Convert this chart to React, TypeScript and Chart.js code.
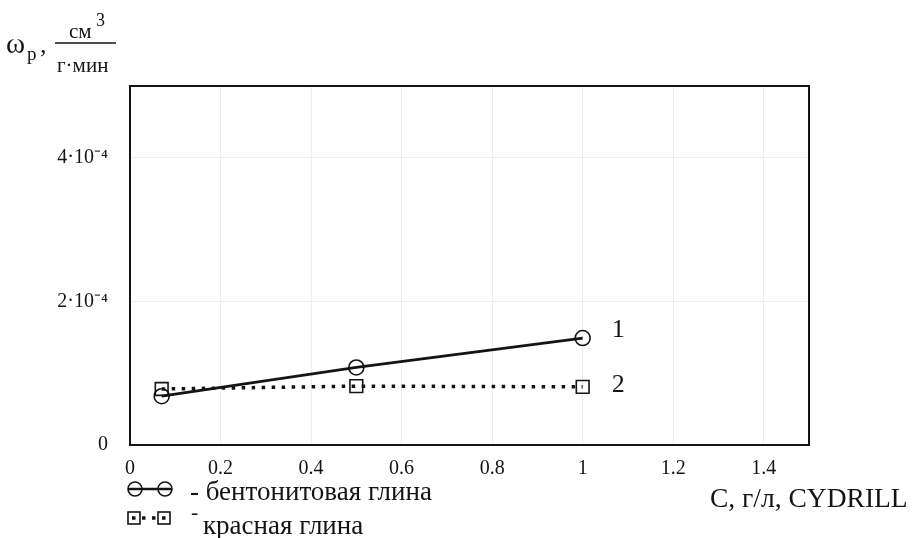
import React, { useEffect, useRef } from "react";
import { Chart, registerables } from "chart.js";

Chart.register(...registerables);

// ---- data ----
const concentrations = [0.07, 0.5, 1];
const bentoniteRates = [6.8e-5, 1.08e-4, 1.49e-4];
const redClayRates = [7.8e-5, 8.2e-5, 8.1e-5];
const xTicks = [0, 0.2, 0.4, 0.6, 0.8, 1, 1.2, 1.4];
const yTicks = [0, 2e-4, 4e-4];
const seriesNames = ["бентонитовая глина", "красная глина"];
const seriesTags = ["1", "2"];
const xTitle = "C, г/л, CYDRILL";
const xRange = [0, 1.5];
const yRange = [0, 5e-4];

const SERIF = "'Liberation Serif', 'Times New Roman', serif";
const INK = "#141414";

const overlayPlugin = {
  id: "overlay",
  afterDraw(chart: any) {
    const { ctx, chartArea } = chart;
    const xs = chart.scales.x;
    const ys = chart.scales.y;
    ctx.save();
    // plot box
    ctx.strokeStyle = INK;
    ctx.lineWidth = 2;
    ctx.strokeRect(chartArea.left, chartArea.top, chartArea.right - chartArea.left, chartArea.bottom - chartArea.top);

    ctx.fillStyle = INK;
    ctx.textBaseline = "alphabetic";
    ctx.textAlign = "left";

    // series tags next to last points
    ctx.font = `26px ${SERIF}`;
    const lastX = concentrations[concentrations.length - 1];
    const tx = xs.getPixelForValue(lastX) + 29;
    ctx.fillText(seriesTags[0], tx, ys.getPixelForValue(bentoniteRates[bentoniteRates.length - 1]) - 1);
    ctx.fillText(seriesTags[1], tx, ys.getPixelForValue(redClayRates[redClayRates.length - 1]) + 5);

    // y axis title: ω_p, см³ / г·мин
    ctx.font = `29px ${SERIF}`;
    ctx.fillText("ω", 6, 53);
    ctx.font = `19px ${SERIF}`;
    ctx.fillText("р", 27, 60);
    ctx.font = `26px ${SERIF}`;
    ctx.fillText(",", 40, 53);
    ctx.font = `21px ${SERIF}`;
    ctx.fillText("см", 69, 38);
    ctx.font = `18px ${SERIF}`;
    ctx.fillText("3", 96, 26);
    ctx.font = `21px ${SERIF}`;
    ctx.fillText("г·мин", 57, 72);
    ctx.lineWidth = 1.5;
    ctx.beginPath();
    ctx.moveTo(55, 43);
    ctx.lineTo(116, 43);
    ctx.stroke();

    // x axis title
    ctx.font = `27.5px ${SERIF}`;
    ctx.fillText(xTitle, 710, 507);

    // legend row 1: solid line with circles
    ctx.lineWidth = 2.5;
    ctx.setLineDash([]);
    ctx.beginPath();
    ctx.moveTo(128, 489);
    ctx.lineTo(172, 489);
    ctx.stroke();
    ctx.lineWidth = 1.6;
    [135, 165].forEach((cx) => {
      ctx.beginPath();
      ctx.arc(cx, 489, 7, 0, Math.PI * 2);
      ctx.stroke();
    });
    ctx.font = `27px ${SERIF}`;
    ctx.fillText("- " + seriesNames[0], 190, 500);

    // legend row 2: dotted line with squares
    ctx.lineWidth = 1.6;
    [134, 164].forEach((cx) => {
      ctx.strokeRect(cx - 6, 512, 12, 12);
    });
    ctx.lineWidth = 3.5;
    ctx.setLineDash([3.5, 6.5]);
    ctx.beginPath();
    ctx.moveTo(132, 518);
    ctx.lineTo(166, 518);
    ctx.stroke();
    ctx.setLineDash([]);
    ctx.font = `22px ${SERIF}`;
    ctx.fillText("-", 191, 519);
    ctx.font = `27px ${SERIF}`;
    ctx.fillText(seriesNames[1], 203, 534);
    ctx.restore();
  },
};

export default function App() {
  const ref = useRef<HTMLCanvasElement | null>(null);
  useEffect(() => {
    if (!ref.current) return;
    const chart = new Chart(ref.current, {
      type: "line",
      data: {
        datasets: [
          {
            label: seriesNames[0],
            data: concentrations.map((x, i) => ({ x, y: bentoniteRates[i] })),
            borderColor: INK,
            borderWidth: 2.8,
            pointStyle: "circle",
            pointRadius: 7.5,
            pointBorderWidth: 1.6,
            pointBorderColor: INK,
            pointBackgroundColor: "rgba(0,0,0,0)",
            tension: 0,
            fill: false,
          },
          {
            label: seriesNames[1],
            data: concentrations.map((x, i) => ({ x, y: redClayRates[i] })),
            borderColor: INK,
            borderWidth: 3.5,
            borderDash: [3.5, 6.5],
            pointStyle: "rect",
            pointRadius: 9,
            pointBorderWidth: 1.6,
            pointBorderColor: INK,
            pointBackgroundColor: "rgba(0,0,0,0)",
            tension: 0,
            fill: false,
          },
        ],
      },
      options: {
        animation: false,
        responsive: false,
        devicePixelRatio: 1,
        layout: { padding: { top: 86, right: 103, left: 0, bottom: 0 } },
        plugins: { legend: { display: false }, tooltip: { enabled: false } },
        scales: {
          x: {
            type: "linear",
            min: xRange[0],
            max: xRange[1],
            afterBuildTicks: (s: any) => {
              s.ticks = xTicks.map((v) => ({ value: v }));
            },
            afterFit: (s: any) => {
              s.height = 93;
            },
            grid: { color: "#eeeeee", drawTicks: false, lineWidth: 1 },
            border: { display: false },
            ticks: {
              padding: 12,
              color: INK,
              font: { family: SERIF, size: 20 },
              callback: (v: any) => String(Math.round(Number(v) * 10) / 10),
            },
          },
          y: {
            type: "linear",
            min: yRange[0],
            max: yRange[1],
            afterBuildTicks: (s: any) => {
              s.ticks = yTicks.map((v) => ({ value: v }));
            },
            afterFit: (s: any) => {
              s.width = 130;
            },
            grid: { color: "#eeeeee", drawTicks: false, lineWidth: 1 },
            border: { display: false },
            ticks: {
              padding: 22,
              color: INK,
              font: { family: SERIF, size: 20 },
              callback: (v: any) => {
                const n = Number(v);
                if (n === 0) return "0";
                return `${Math.round(n / 1e-4)}·10⁻⁴`;
              },
            },
          },
        },
      },
      plugins: [overlayPlugin],
    });
    return () => chart.destroy();
  }, []);
  return (
    <div style={{ position: "fixed", left: 0, top: 0, width: 912, height: 538, background: "#fff" }}>
      <canvas ref={ref} width={912} height={538} />
    </div>
  );
}
